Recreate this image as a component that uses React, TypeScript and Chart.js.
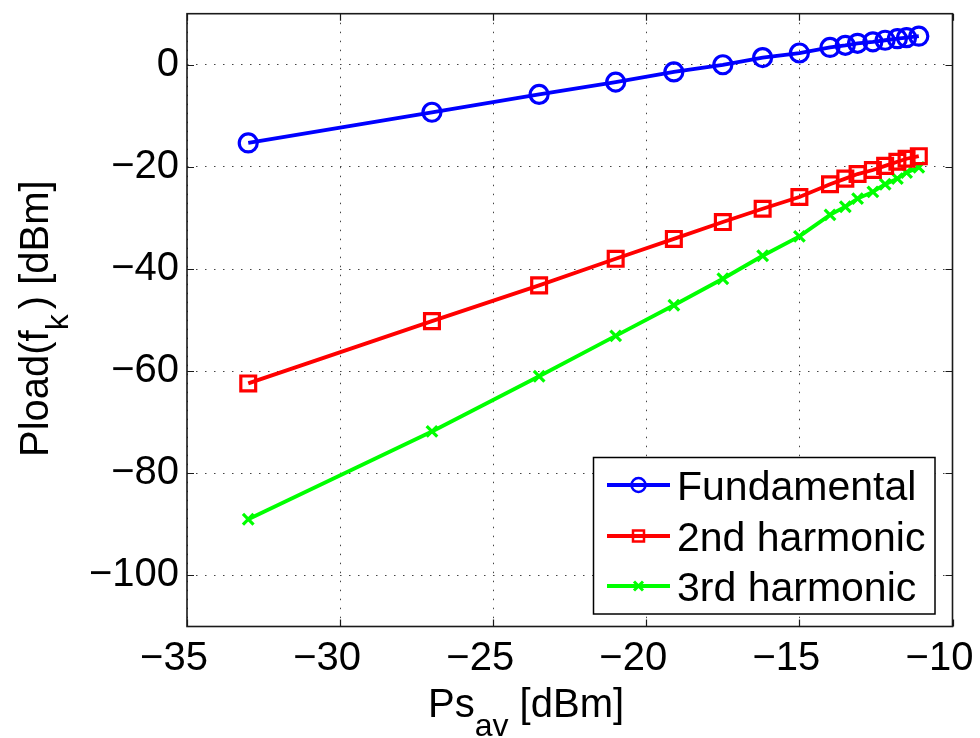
import React, { useEffect, useRef } from "react";
import { Chart, registerables } from "chart.js";

Chart.register(...registerables);

const PS_AV = [-33.0, -27.0, -23.5, -21.0, -19.1, -17.5, -16.2, -15.0, -14.0, -13.5, -13.1, -12.6, -12.2, -11.8, -11.5, -11.1];
const FUNDAMENTAL = [-15.3, -9.3, -5.8, -3.4, -1.4, 0.0, 1.4, 2.3, 3.4, 3.8, 4.2, 4.5, 4.8, 5.1, 5.3, 5.6];
const HARMONIC_2 = [-62.4, -50.2, -43.2, -38.0, -34.1, -30.8, -28.2, -25.9, -23.4, -22.3, -21.4, -20.6, -19.8, -19.0, -18.4, -17.9];
const HARMONIC_3 = [-89.0, -71.8, -61.0, -53.1, -47.1, -41.9, -37.4, -33.6, -29.4, -27.8, -26.2, -24.9, -23.4, -22.3, -21.1, -20.1];

const X_TICKS = [-35, -30, -25, -20, -15, -10];
const Y_TICKS = [-100, -80, -60, -40, -20, 0];
const SERIES_NAMES = ["Fundamental", "2nd harmonic", "3rd harmonic"];
const SERIES_COLORS = ["#0000ff", "#ff0000", "#00ff00"];

const FONT = "'Liberation Sans', Arial, Helvetica, sans-serif";

const fmt = (v: number) => (v < 0 ? "\u2212" + Math.abs(v) : String(v));

const toPoints = (ys: number[]) => ys.map((y, i) => ({ x: PS_AV[i], y }));

function drawMarker(ctx: CanvasRenderingContext2D, kind: number, x: number, y: number, color: string) {
  ctx.save();
  ctx.strokeStyle = color;
  ctx.lineWidth = 2.5;
  ctx.beginPath();
  if (kind === 0) {
    ctx.arc(x, y, 7, 0, Math.PI * 2);
  } else if (kind === 1) {
    ctx.rect(x - 5.5, y - 5.5, 11, 11);
  } else {
    ctx.lineWidth = 3;
    ctx.moveTo(x - 4.5, y - 4.5);
    ctx.lineTo(x + 4.5, y + 4.5);
    ctx.moveTo(x + 4.5, y - 4.5);
    ctx.lineTo(x - 4.5, y + 4.5);
  }
  ctx.stroke();
  ctx.restore();
}

const framePlugin = {
  id: "matlabFrame",
  beforeDatasetsDraw(chart: any) {
    const { ctx, chartArea } = chart;
    const { left, right, top, bottom } = chartArea;
    const xs = chart.scales.x;
    const ys = chart.scales.y;
    ctx.save();
    ctx.strokeStyle = "#1a1a1a";
    ctx.lineWidth = 1.2;
    const tl = 7;
    ctx.beginPath();
    X_TICKS.forEach((v) => {
      const px = Math.round(xs.getPixelForValue(v)) + 0.5;
      ctx.moveTo(px, bottom);
      ctx.lineTo(px, bottom - tl);
      ctx.moveTo(px, top);
      ctx.lineTo(px, top + tl);
    });
    Y_TICKS.forEach((v) => {
      const py = Math.round(ys.getPixelForValue(v)) + 0.5;
      ctx.moveTo(left, py);
      ctx.lineTo(left + tl, py);
      ctx.moveTo(right, py);
      ctx.lineTo(right - tl, py);
    });
    ctx.stroke();
    ctx.lineWidth = 1.6;
    ctx.strokeRect(left, top, right - left, bottom - top);
    ctx.restore();
  },
  afterDatasetsDraw(chart: any) {
    const { ctx } = chart;
    ctx.save();
    const bx = 593.5, by = 457.5, bw = 341.5, bh = 156.5;
    ctx.fillStyle = "#ffffff";
    ctx.fillRect(bx, by, bw, bh);
    ctx.strokeStyle = "#000";
    ctx.lineWidth = 1.5;
    ctx.strokeRect(bx, by, bw, bh);
    const rows = [485, 536, 586];
    SERIES_NAMES.forEach((name, i) => {
      const y = rows[i];
      ctx.strokeStyle = SERIES_COLORS[i];
      ctx.lineWidth = 3.8;
      ctx.beginPath();
      ctx.moveTo(607, y);
      ctx.lineTo(670, y);
      ctx.stroke();
      drawMarker(ctx, i, 638.5, y, SERIES_COLORS[i]);
      ctx.fillStyle = "#000";
      ctx.font = `41px ${FONT}`;
      ctx.textAlign = "left";
      ctx.textBaseline = "alphabetic";
      ctx.fillText(name, 677, y + 15);
    });
    ctx.restore();
  },
  afterDraw(chart: any) {
    const { ctx } = chart;
    ctx.save();
    ctx.fillStyle = "#000";
    ctx.textAlign = "left";
    ctx.textBaseline = "alphabetic";
    const big = `40px ${FONT}`;
    const small = `32px ${FONT}`;
    let x = 428;
    const yb = 717;
    ctx.font = big;
    ctx.fillText("Ps", x, yb);
    x += ctx.measureText("Ps").width;
    ctx.font = small;
    ctx.fillText("av", x, yb + 19);
    x += ctx.measureText("av").width;
    ctx.font = big;
    ctx.fillText(" [dBm]", x, yb);
    ctx.translate(48, 457);
    ctx.rotate(-Math.PI / 2);
    let t = 0;
    ctx.font = big;
    ctx.fillText("Pload(f", t, 0);
    t += ctx.measureText("Pload(f").width;
    ctx.font = small;
    ctx.fillText("k", t, 20);
    t += ctx.measureText("k").width + 5;
    ctx.font = big;
    ctx.fillText(") [dBm]", t, 0);
    ctx.restore();
  },
};

export default function App() {
  const canvasRef = useRef<HTMLCanvasElement | null>(null);

  useEffect(() => {
    const canvas = canvasRef.current;
    if (!canvas) return;
    const mkDs = (label: string, data: number[], color: string, style: string, radius: number) => ({
      label,
      data: toPoints(data),
      borderColor: color,
      backgroundColor: "rgba(0,0,0,0)",
      borderWidth: 3.8,
      pointStyle: style,
      pointRadius: radius,
      pointBorderWidth: 3.2,
      pointBorderColor: color,
      pointBackgroundColor: "rgba(0,0,0,0)",
      tension: 0,
      fill: false,
    });
    const chart = new Chart(canvas, {
      type: "line",
      data: {
        datasets: [
          mkDs(SERIES_NAMES[0], FUNDAMENTAL, SERIES_COLORS[0], "circle", 9),
          mkDs(SERIES_NAMES[1], HARMONIC_2, SERIES_COLORS[1], "rect", 10.5),
          mkDs(SERIES_NAMES[2], HARMONIC_3, SERIES_COLORS[2], "crossRot", 7.5),
        ] as any,
      },
      options: {
        responsive: false,
        animation: false,
        layout: { padding: { left: 0, top: 9.5, right: 27.5, bottom: 0 } },
        plugins: { legend: { display: false }, tooltip: { enabled: false } },
        scales: {
          x: {
            type: "linear",
            position: "bottom",
            min: -35,
            max: -10,
            afterBuildTicks: (s: any) => {
              s.ticks = X_TICKS.map((v) => ({ value: v }));
            },
            afterFit: (s: any) => {
              s.height = 111.5;
              s.paddingLeft = 0;
              s.paddingRight = 0;
              s.paddingTop = 0;
              s.paddingBottom = 0;
            },
            ticks: {
              font: { family: FONT, size: 40 },
              color: "#000",
              padding: 8,
              labelOffset: -13,
              maxRotation: 0,
              autoSkip: false,
              callback: (v: any) => fmt(Number(v)),
            },
            grid: { color: "#444", lineWidth: 1, drawTicks: false },
            border: { display: false, dash: [1.5, 7.5] },
          },
          y: {
            type: "linear",
            min: -110,
            max: 10,
            afterBuildTicks: (s: any) => {
              s.ticks = Y_TICKS.map((v) => ({ value: v }));
            },
            afterFit: (s: any) => {
              s.width = 187;
              s.paddingLeft = 0;
              s.paddingRight = 0;
              s.paddingTop = 0;
              s.paddingBottom = 0;
            },
            ticks: {
              font: { family: FONT, size: 40 },
              color: "#000",
              padding: 8,
              autoSkip: false,
              callback: (v: any) => fmt(Number(v)),
            },
            grid: { color: "#444", lineWidth: 1, drawTicks: false },
            border: { display: false, dash: [1.5, 7.5] },
          },
        },
      } as any,
      plugins: [framePlugin],
    });
    return () => chart.destroy();
  }, []);

  return (
    <div style={{ position: "absolute", left: 0, top: 0, width: 980, height: 738, background: "#fff" }}>
      <canvas ref={canvasRef} width={980} height={738} style={{ display: "block", width: 980, height: 738 }} />
    </div>
  );
}
